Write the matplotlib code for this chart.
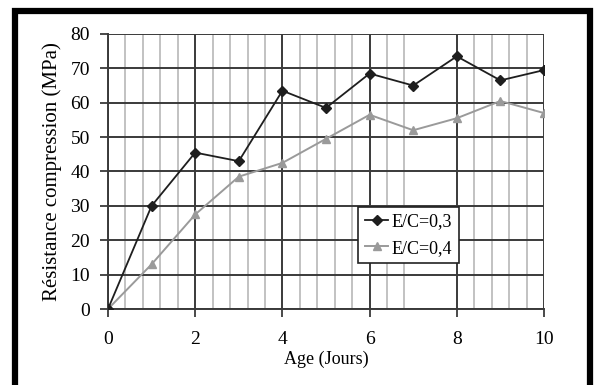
import matplotlib.pyplot as plt
from matplotlib.patches import Rectangle

# data
age = [0, 1, 2, 3, 4, 5, 6, 7, 8, 9, 10]
ec03 = [0, 30, 45.5, 43, 63.5, 58.5, 68.5, 65, 73.5, 66.5, 69.5]
ec04 = [0, 13, 27.5, 38.5, 42.5, 49.5, 56.5, 52, 55.5, 60.5, 57]
labels = ['E/C=0,3', 'E/C=0,4']

plt.rcParams['font.family'] = ['Liberation Serif', 'DejaVu Serif']

fig = plt.figure(figsize=(5.98, 3.85), dpi=100)
ax = fig.add_axes([0.1806, 0.1974, 0.9097 - 0.1806, 0.9117 - 0.1974])

# minor grid (some lines missing in the original between 6.8 and 8)
minor_x = [0.4, 0.8, 1.2, 1.6, 2.4, 2.8, 3.2, 3.6, 4.4, 4.8, 5.2, 5.6,
           6.4, 6.8, 8.4, 8.8, 9.2, 9.6]
ax.set_xticks(minor_x, minor=True)
ax.set_xticks([0, 2, 4, 6, 8, 10])
ax.set_yticks(range(0, 81, 10))
ax.grid(True, which='minor', axis='x', color='#bdbdbd', linewidth=1.3)
ax.grid(True, which='major', axis='both', color='#3a3a3a', linewidth=1.4)
ax.tick_params(which='minor', length=0)
ax.tick_params(which='major', direction='out', length=6, width=1.3,
               color='#3a3a3a', labelsize=14)
ax.tick_params(axis='x', pad=10)
ax.tick_params(axis='y', pad=7)

ax.plot(age, ec03, color='#1e1e1e', marker='D', markersize=5, linewidth=1.3,
        label=labels[0], zorder=4)
ax.plot(age, ec04, color='#9a9a9a', marker='^', markersize=6, linewidth=1.4,
        label=labels[1], zorder=3)

ax.set_xlim(0, 10)
ax.set_ylim(0, 80)
for s in ax.spines.values():
    s.set_color('#3a3a3a')
    s.set_linewidth(1.4)
ax.spines['top'].set_visible(False)
ax.spines['right'].set_visible(False)

ax.set_xlabel('Age (Jours)', fontsize=13, labelpad=2)
ax.set_ylabel('Résistance compression (MPa)', fontsize=15, labelpad=6)

leg = ax.legend(loc='upper left', bbox_to_anchor=(0.5745, 0.37), fontsize=13,
                frameon=True, fancybox=False, edgecolor='#222222',
                handlelength=1.3, handletextpad=0.2, borderpad=0.35,
                labelspacing=0.5, borderaxespad=0)
leg.get_frame().set_linewidth(1.2)
leg.get_frame().set_alpha(1)

# thick outer frame
fig.patches.append(Rectangle((15 / 598, -0.05), (590 - 15) / 598, 1 - 10.5 / 385 + 0.05,
                             transform=fig.transFigure, fill=False,
                             edgecolor='black', linewidth=4.5))

fig.savefig('out.png', dpi=100)
